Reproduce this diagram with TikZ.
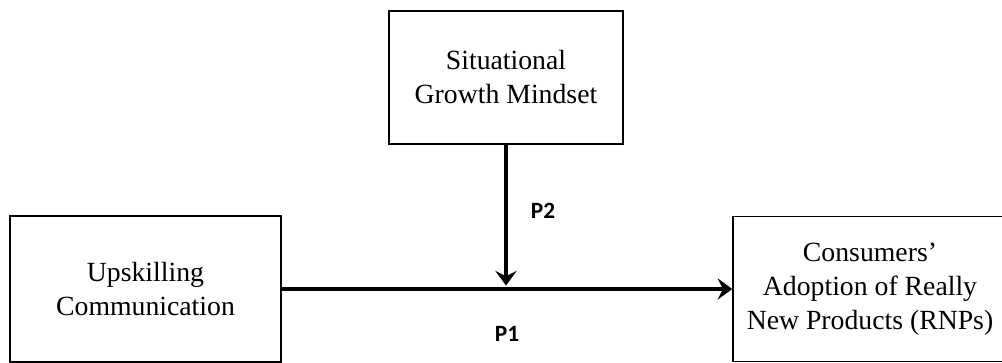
\documentclass[tikz,border=0pt]{standalone}
\usepackage{fontspec}
\setmainfont{Liberation Serif}
\newfontfamily\labelfont{Carlito}
\usetikzlibrary{arrows.meta,positioning}

\begin{document}
\begin{tikzpicture}[x=0.75pt,y=-0.75pt,
  box/.style={draw, line width=1.1pt, align=center, inner sep=0pt,
    font=\fontsize{20.8}{25.5}\selectfont},
  link/.style={line width=2.8pt,
    -{Stealth[length=11pt,width=16pt,inset=4pt]}},
  plabel/.style={font=\labelfont\bfseries\fontsize{17.5}{20}\selectfont}]

% Cornice
\useasboundingbox (0,0) rectangle (1002,363);

% Riquadri
\node[box, minimum width=234*0.75pt, minimum height=133*0.75pt] (mindset)
  at (506,77.5) {Situational\\Growth Mindset};
\node[box, minimum width=271*0.75pt, minimum height=146*0.75pt] (upskill)
  at (145.5,289) {Upskilling\\Communication};
\node[box, minimum width=274*0.75pt, minimum height=145*0.75pt] (adoption)
  at (870,289) {Consumers'\\Adoption of Really\\New Products (RNPs)};

% Frecce
\coordinate (meet) at ([yshift=2.6pt]mindset.south |- upskill.east);
\draw[link] (upskill.east) -- (adoption.west);
\draw[link] (mindset.south) -- (meet);

% Etichette
\node[plabel] (ptwo) at (543,211) {P2};
\node[plabel] (pone) at (507,334) {P1};

\end{tikzpicture}
\end{document}
